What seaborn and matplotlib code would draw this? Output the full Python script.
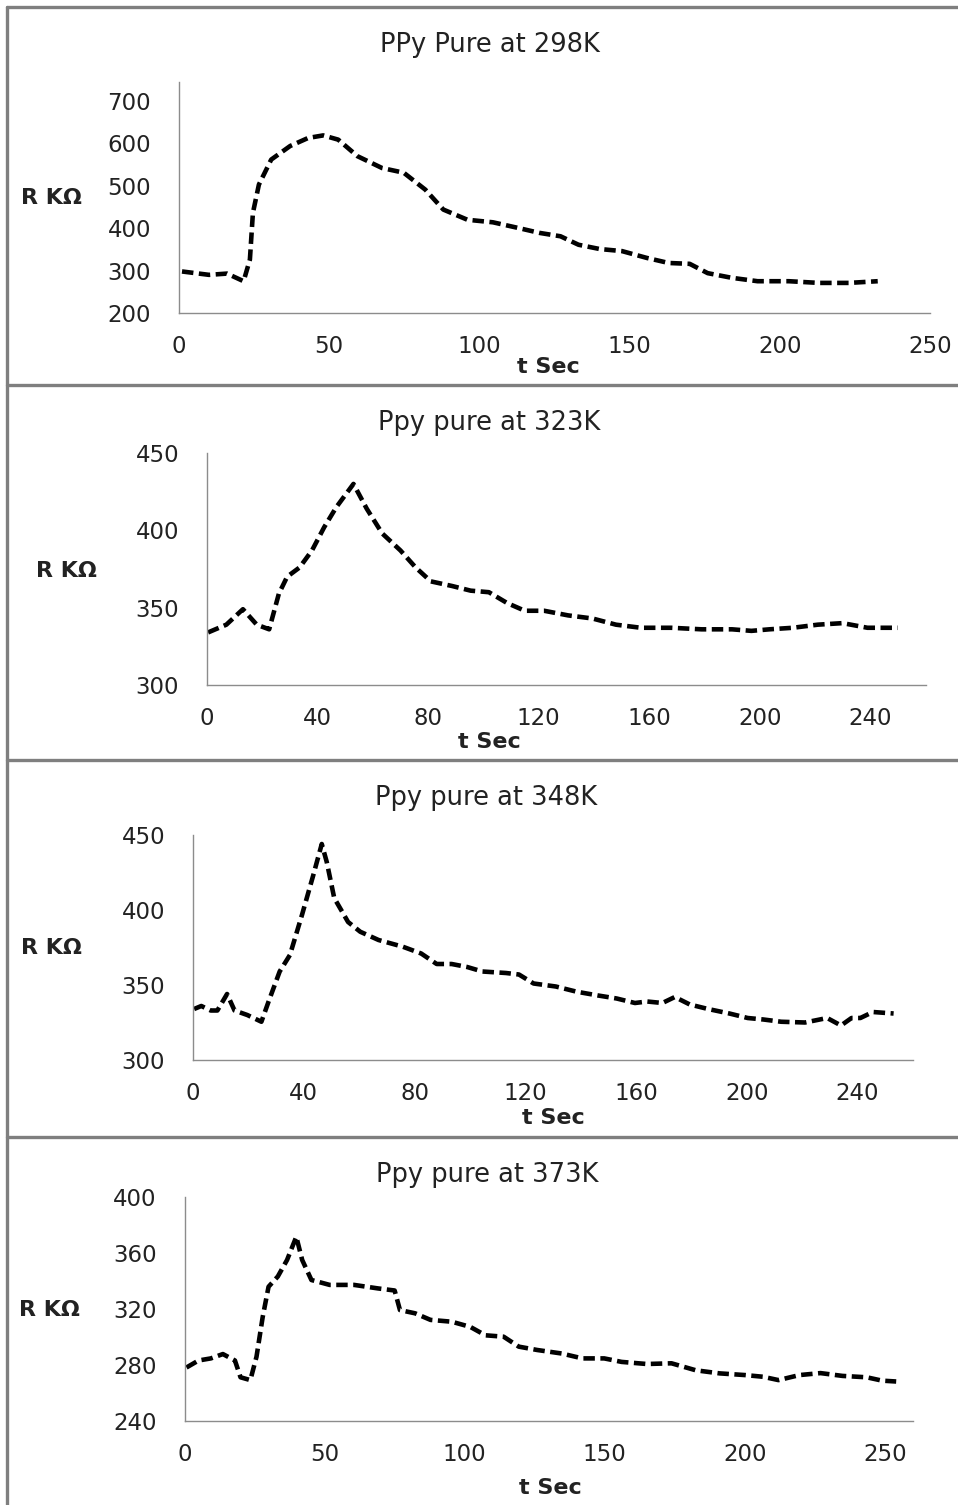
import matplotlib
matplotlib.use("Agg")
import matplotlib.pyplot as plt
from matplotlib.lines import Line2D
import seaborn as sns
import pandas as pd

# Resistance response of pure PPy at four temperatures
t_298 = [1, 10, 16, 21.5, 23.6, 24.6, 26.6, 30.7, 37, 43, 48, 53, 59.4, 67.6, 74.8, 82, 88, 96,
         104.5, 112.7, 120, 127, 133, 140, 147.5, 155.7, 163, 170, 176, 184, 192.6, 203, 213, 223, 232.6]
r_298 = [298, 290, 293, 275, 326, 436, 503, 562, 594, 613, 619, 609, 570, 542, 531, 491, 444, 420,
         414, 401, 389, 381, 361, 351, 346, 330, 318, 316, 294, 283, 275, 275, 271, 271, 275]

t_323 = [0.4, 7, 13, 18, 22.5, 26, 29, 33.5, 38, 42.4, 46.8, 53, 57.8, 63.4, 70, 75.5, 81, 88.7,
         95.4, 102, 108.6, 115, 122, 130.7, 139.5, 148, 157, 168, 179, 190, 197, 203.5, 212, 221,
         230, 239, 250]
r_323 = [334, 339, 349, 339, 336, 359, 370, 376, 387, 402, 415, 430, 414, 398, 387, 376, 367, 364,
         361, 360, 353, 348, 348, 345, 343, 339, 337, 337, 336, 336, 335, 336, 337, 339,
         340, 337, 337]

t_348 = [0.4, 3, 6.4, 8.8, 12.3, 15, 19.6, 24.7, 27.3, 31.3, 35, 39.4, 43.4, 46.5, 48.3, 51, 56,
         60.4, 67, 75.8, 82.4, 88, 93.4, 99, 104.5, 113, 117.7, 123, 131, 138.6, 146.3, 153,
         159.6, 164, 169.5, 174, 179.4, 186, 193.7, 200.3, 206, 212.4, 221, 229, 234, 237.8,
         241, 245.5, 253]
r_348 = [334, 336, 333, 333, 344, 333, 330, 325.5, 339, 359, 370, 397, 423, 444, 432, 408, 392,
         385.5, 380, 375.5, 371, 364, 364, 362, 359, 358, 357, 351, 349, 345.5, 343, 341,
         338, 339, 338, 342, 337, 334, 331, 328, 327, 325.5, 325, 328, 323, 328,
         328, 332, 331]

t_373 = [0.7, 5, 9.4, 13.7, 18, 20, 23.5, 25.7, 27.9, 30, 33.3, 36.6, 39.9, 42, 45.3, 51.8, 60.5,
         69, 75, 76.9, 82.3, 87.8, 95.4, 102, 107.4, 113.9, 119.3, 125.9, 134.6, 142, 149.8,
         156, 165, 173.8, 182.5, 191, 200, 206.4, 212, 219.5, 227, 234.8, 243.5, 249, 254]
r_373 = [278, 283, 284.5, 287.6, 283, 271, 269, 285.7, 314, 335.7, 343, 354.8, 371.4, 354.8,
         340.5, 337, 337, 334.5, 333, 319, 316.7, 312, 310.7, 307, 301, 300, 292.9, 290.5, 288,
         284.5, 284.5, 282, 280.5, 281, 276, 273.8, 272.6, 271.4, 269, 272.6, 274, 272, 271,
         268.6, 268]

titles = ["PPy Pure at 298K", "Ppy pure at 323K", "Ppy pure at 348K", "Ppy pure at 373K"]
y_ticks = [[200, 300, 400, 500, 600, 700], [300, 350, 400, 450],
           [300, 350, 400, 450], [240, 280, 320, 360, 400]]
x_ticks = [[0, 50, 100, 150, 200, 250], [0, 40, 80, 120, 160, 200, 240],
           [0, 40, 80, 120, 160, 200, 240], [0, 50, 100, 150, 200, 250]]

sns.set_style("white")
plt.rcParams["font.family"] = ["DejaVu Sans"]

W, H = 958, 1505
fig = plt.figure(figsize=(W / 100, H / 100), dpi=100)
fig.patch.set_facecolor("white")

# plot-area geometry in pixels: x at t=0, x at right end, y at top, y at bottom
geom = [
    dict(x0=179, x1=930, ytop=82, ybot=313, xlim=(0, 250), ylim=(200, 745)),
    dict(x0=207, x1=925.5, ytop=453, ybot=685, xlim=(0, 260), ylim=(300, 450)),
    dict(x0=193, x1=913, ytop=835, ybot=1060, xlim=(0, 260), ylim=(300, 450)),
    dict(x0=184.5, x1=913, ytop=1196.7, ybot=1420.7, xlim=(0, 260), ylim=(240, 400)),
]
# title centre, "R KΩ" left/centre, "t Sec" centre (pixels)
title_pos = [(490, 45), (489, 423), (486, 798), (487, 1175)]
ylab_pos = [(21, 198), (36, 571), (21, 948), (19, 1310)]
xlab_pos = [(548, 367), (489, 742), (553, 1118), (550, 1488)]

series = [(t_298, r_298), (t_323, r_323), (t_348, r_348), (t_373, r_373)]
grey = "#8c8c8c"
ink = "#222222"

for i, g in enumerate(geom):
    ax = fig.add_axes([g["x0"] / W, (H - g["ybot"]) / H,
                       (g["x1"] - g["x0"]) / W, (g["ybot"] - g["ytop"]) / H])
    df = pd.DataFrame({"t": series[i][0], "R": series[i][1]})
    sns.lineplot(data=df, x="t", y="R", ax=ax, color="black", linewidth=3.3,
                 sort=False, estimator=None)
    ln = ax.lines[0]
    ln.set_dashes((2.5, 1.2))
    ln.set_dash_capstyle("butt")

    ax.set_xlim(*g["xlim"])
    ax.set_ylim(*g["ylim"])
    ax.set_xticks(x_ticks[i])
    ax.set_yticks(y_ticks[i])
    ax.set_xlabel("")
    ax.set_ylabel("")
    for s in ["top", "right"]:
        ax.spines[s].set_visible(False)
    for s in ["left", "bottom"]:
        ax.spines[s].set_color(grey)
        ax.spines[s].set_linewidth(1.0)
    ax.tick_params(axis="both", direction="out", length=5, width=1.0, color=grey,
                   labelsize=16.5, labelcolor=ink)
    ax.tick_params(axis="y", pad=15)
    ax.tick_params(axis="x", pad=11)
    ax.patch.set_alpha(0)

    tx, ty = title_pos[i]
    fig.text(tx / W, 1 - ty / H, titles[i], ha="center", va="center",
             fontsize=18.5, color=ink)
    lx, ly = ylab_pos[i]
    fig.text(lx / W, 1 - ly / H, "R KΩ", ha="left", va="center",
             fontsize=16, fontweight="bold", color=ink)
    xx, xy = xlab_pos[i]
    fig.text(xx / W, 1 - xy / H, "t Sec", ha="center", va="center",
             fontsize=16, fontweight="bold", color=ink)

# chart-area borders around each panel
frame = "#7f7f7f"
for yb in [7, 385, 760, 1137]:
    fig.add_artist(Line2D([7 / W, 1], [1 - yb / H, 1 - yb / H], color=frame,
                          linewidth=2.4, transform=fig.transFigure))
fig.add_artist(Line2D([7 / W, 7 / W], [0, 1 - 7 / H], color=frame,
                      linewidth=2.4, transform=fig.transFigure))

fig.savefig("out.png", dpi=100)
